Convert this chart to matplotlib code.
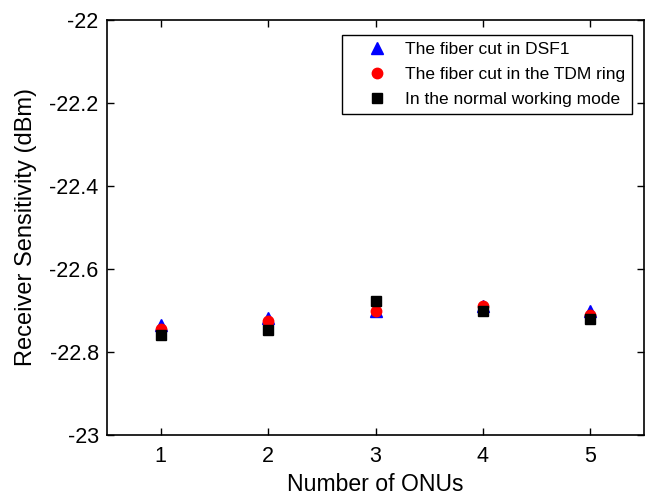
import matplotlib
matplotlib.use("Agg")
import matplotlib.pyplot as plt

plt.rcParams['font.family'] = ['Liberation Sans', 'DejaVu Sans']

onus = [1, 2, 3, 4, 5]
dsf1_cut = [-22.735, -22.717, -22.70, -22.69, -22.70]
tdm_cut = [-22.745, -22.725, -22.70, -22.69, -22.71]
normal = [-22.76, -22.747, -22.678, -22.70, -22.72]

fig = plt.figure(figsize=(6.45, 4.95), dpi=100)
ax = fig.add_axes([107/645, 60/495, 537/645, 415/495])

ax.plot(onus, dsf1_cut, linestyle='none', marker='^', color='blue', markersize=8.5, label='The fiber cut in DSF1')
ax.plot(onus, tdm_cut, linestyle='none', marker='o', color='red', markersize=7.5, label='The fiber cut in the TDM ring')
ax.plot(onus, normal, linestyle='none', marker='s', color='black', markersize=7, label='In the normal working mode')

ax.set_xlim(0.5, 5.5)
ax.set_ylim(-23, -22)
ax.set_xticks(onus)
ax.set_yticks([-23, -22.8, -22.6, -22.4, -22.2, -22])
ax.set_yticklabels(['-23', '-22.8', '-22.6', '-22.4', '-22.2', '-22'])
ax.tick_params(direction='in', top=True, right=True, labelsize=15.5, length=5, width=1)
ax.tick_params(axis='x', pad=8)
ax.tick_params(axis='y', pad=6)
for s in ax.spines.values():
    s.set_linewidth(1.2)

ax.set_xlabel('Number of ONUs', fontsize=16.6, labelpad=4)
ax.set_ylabel('Receiver Sensitivity (dBm)', fontsize=17, labelpad=9)

leg = ax.legend(loc='upper right', bbox_to_anchor=(632/645, (495 - 35)/495),
                bbox_transform=fig.transFigure, fontsize=12.5,
                frameon=True, fancybox=False, edgecolor='black', framealpha=1,
                borderpad=0.42, labelspacing=0.55, handletextpad=0.0, handlelength=3.2,
                borderaxespad=0)
leg.get_frame().set_linewidth(1.0)

fig.savefig('out.png', dpi=100)
